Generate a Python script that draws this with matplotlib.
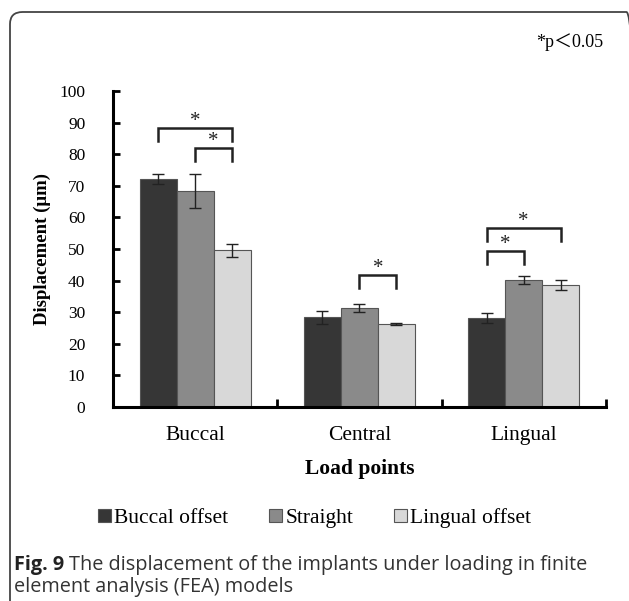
import matplotlib
matplotlib.use("Agg")
import matplotlib.pyplot as plt
import numpy as np
from matplotlib.patches import FancyBboxPatch

categories = ["Buccal", "Central", "Lingual"]
series = ["Buccal offset", "Straight", "Lingual offset"]
buccal_offset = [72.2, 28.4, 28.1]
straight = [68.4, 31.4, 40.3]
lingual_offset = [49.6, 26.4, 38.5]
err_buccal = [1.5, 2.0, 1.5]
err_straight = [5.3, 1.3, 1.3]
err_lingual = [2.0, 0.3, 1.6]
colors = ["#363636", "#8a8a8a", "#d8d8d8"]

# significance brackets: (category, bar a, bar b, bracket top, leg bottom)
brackets = [
    (0, 0, 2, 88.4, 84.2),
    (0, 1, 2, 82.1, 78.0),
    (1, 1, 2, 41.8, 37.7),
    (2, 0, 2, 56.7, 52.5),
    (2, 0, 1, 49.4, 45.3),
]

serif = "Liberation Serif"
plt.rcParams["font.family"] = [serif, "DejaVu Sans"]

fig = plt.figure(figsize=(6.29, 6.01), dpi=100)
ax = fig.add_axes([0.1797, 0.3228, 0.7835, 0.5258])

values = [buccal_offset, straight, lingual_offset]
errs = [err_buccal, err_straight, err_lingual]
w = 0.225
x = np.arange(len(categories)) + 0.5
for i in range(3):
    ax.bar(x + (i - 1) * w, values[i], w, color=colors[i], edgecolor="#555555",
           linewidth=0.8, label=series[i], zorder=2)
    ax.errorbar(x + (i - 1) * w, values[i], yerr=errs[i], fmt="none",
                ecolor="#222222", elinewidth=1.0, capsize=4, capthick=1.0, zorder=3)

for c, a, b, top, bot in brackets:
    xa = x[c] + (a - 1) * w
    xb = x[c] + (b - 1) * w
    ax.plot([xa, xa, xb, xb], [bot, top, top, bot], color="#222222", lw=1.8,
            solid_joinstyle="miter", zorder=4)
    ax.text((xa + xb) / 2, top + 2.0, "*", ha="center", va="center",
            fontsize=15, color="#222222")

ax.set_xlim(0, 3)
ax.set_ylim(0, 100)
ax.set_yticks(np.arange(0, 101, 10))
ax.set_yticklabels([str(v) for v in range(0, 101, 10)], family=serif)
ax.set_xticks([1, 2, 3])
ax.set_xticklabels([])
for s in ["top", "right"]:
    ax.spines[s].set_visible(False)
for s in ["left", "bottom"]:
    ax.spines[s].set_linewidth(2.2)
ax.tick_params(axis="y", direction="in", length=5, width=2, labelsize=12.5, pad=20)
ax.tick_params(axis="x", direction="in", length=6, width=2)
for xi, name in zip(x, categories):
    ax.text(xi, -6.0, name, ha="center", va="top", fontsize=15.5,
            transform=ax.transData)
ax.text(0.5, -0.165, "Load points", ha="center", va="top", fontsize=15.5,
        fontweight="bold", transform=ax.transAxes)
ax.set_ylabel("Displacement (μm)", fontsize=13.5, fontweight="bold", labelpad=6)

leg = fig.legend(loc="center", bbox_to_anchor=(0.5, 1 - 518 / 601), ncol=3,
                 frameon=False, handlelength=0.6, handleheight=0.6,
                 handletextpad=0.15, columnspacing=1.9,
                 prop={"size": 15.5})

fig.text(536 / 629, 1 - 42 / 601, "*p＜0.05", ha="left", va="center",
         fontsize=13, family=[serif, "Noto Sans CJK SC"])

t1 = fig.text(14 / 629, 1 - 570 / 601, "Fig. 9", ha="left", va="baseline",
              fontsize=14.3, family="Open Sans", fontweight="bold", color="#222222")
fig.canvas.draw()
bb = t1.get_window_extent()
fig.text(bb.x1 / fig.bbox.width + 5 / 629, 1 - 570 / 601,
         "The displacement of the implants under loading in finite",
         ha="left", va="baseline", fontsize=14.3, family="Open Sans", color="#333333")
fig.text(14 / 629, 1 - 592 / 601, "element analysis (FEA) models", ha="left",
         va="baseline", fontsize=14.3, family="Open Sans", color="#333333")

frame = FancyBboxPatch((10 / 629, -0.02), 1.0, 1 - 12 / 601 + 0.02,
                       boxstyle="round,pad=0,rounding_size=0.02",
                       transform=fig.transFigure, fill=False,
                       edgecolor="#444444", linewidth=1.3)
fig.patches.append(frame)

fig.savefig("out.png", dpi=100)
